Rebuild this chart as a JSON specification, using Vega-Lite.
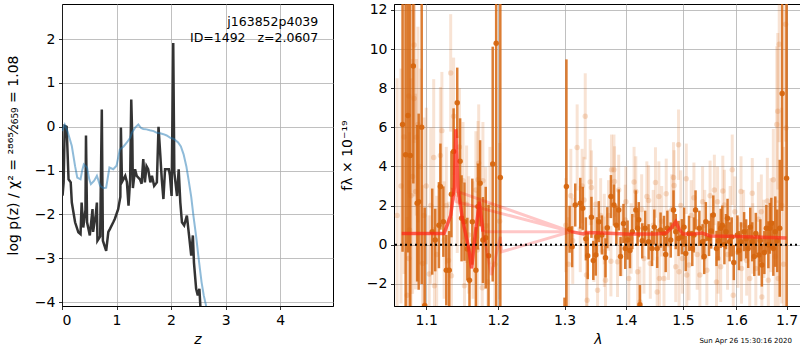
{
  "$schema": "https://vega.github.io/schema/vega-lite/v6.json",
  "padding": {"left": 5, "top": 2, "right": 0, "bottom": 0},
  "background": "white",
  "spacing": 5,
  "config": {
    "font": "DejaVu Sans",
    "view": {"stroke": "black", "strokeWidth": 1},
    "axis": {
      "labelFont": "DejaVu Sans", "titleFont": "DejaVu Sans",
      "labelFontSize": 14, "titleFontSize": 14, "titleFontWeight": "normal",
      "labelColor": "black", "titleColor": "black",
      "tickColor": "black", "domainColor": "black", "tickSize": 3.5, "tickWidth": 0.8,
      "labelPadding": 3.5, "gridColor": "#b0b0b0", "gridWidth": 0.8, "domainWidth": 0.8
    }
  },
  "datasets": {
    "chi": [
      {"z":0.01,"y":-1.57},{"z":0.03,"y":-1.27},{"z":0.05,"y":0.02},{"z":0.085,"y":0.0},{"z":0.12,"y":-1.2},{"z":0.16,"y":-1.27},{"z":0.18,"y":-1.73},{"z":0.24,"y":-2.18},{"z":0.30,"y":-2.41},{"z":0.34,"y":-2.45},{"z":0.36,"y":-1.73},{"z":0.39,"y":-2.3},{"z":0.43,"y":-1.9},{"z":0.44,"y":-0.2},{"z":0.46,"y":-2.18},{"z":0.51,"y":-2.48},{"z":0.56,"y":-1.88},{"z":0.57,"y":-2.4},{"z":0.62,"y":-2.0},{"z":0.64,"y":-1.73},{"z":0.65,"y":-2.6},{"z":0.70,"y":-2.5},{"z":0.73,"y":0.39},{"z":0.75,"y":-2.6},{"z":0.81,"y":-2.83},{"z":0.85,"y":-2.4},{"z":0.88,"y":-2.33},{"z":0.94,"y":-2.18},{"z":0.97,"y":-2.1},{"z":1.03,"y":-1.88},{"z":1.07,"y":-1.6},{"z":1.08,"y":-0.02},{"z":1.10,"y":-1.26},{"z":1.16,"y":-1.12},{"z":1.19,"y":-1.26},{"z":1.22,"y":-1.8},{"z":1.25,"y":-1.2},{"z":1.27,"y":0.62},{"z":1.29,"y":-0.3},{"z":1.30,"y":-1.4},{"z":1.34,"y":-0.97},{"z":1.37,"y":-1.12},{"z":1.43,"y":-1.2},{"z":1.46,"y":-1.3},{"z":1.49,"y":-0.74},{"z":1.52,"y":-1.27},{"z":1.55,"y":-0.9},{"z":1.58,"y":-0.97},{"z":1.62,"y":-1.27},{"z":1.65,"y":-1.12},{"z":1.69,"y":-1.35},{"z":1.74,"y":-1.27},{"z":1.77,"y":0.0},{"z":1.80,"y":-0.59},{"z":1.83,"y":-1.2},{"z":1.86,"y":-1.65},{"z":1.89,"y":-0.97},{"z":1.96,"y":-0.97},{"z":1.98,"y":-1.12},{"z":2.01,"y":-1.58},{"z":2.04,"y":1.91},{"z":2.06,"y":-1.05},{"z":2.11,"y":-1.58},{"z":2.14,"y":-0.97},{"z":2.17,"y":-1.73},{"z":2.20,"y":-2.18},{"z":2.24,"y":-2.25},{"z":2.29,"y":-2.03},{"z":2.33,"y":-2.48},{"z":2.37,"y":-2.94},{"z":2.40,"y":-2.48},{"z":2.42,"y":-3.1},{"z":2.46,"y":-3.7},{"z":2.49,"y":-3.85},{"z":2.52,"y":-3.7},{"z":2.54,"y":-4.15},{"z":2.56,"y":-4.6}
    ],
    "prior": [
      {"z":0.0,"y":-0.1},{"z":0.05,"y":0.05},{"z":0.1,"y":-0.1},{"z":0.18,"y":-0.44},{"z":0.24,"y":-0.9},{"z":0.28,"y":-1.16},{"z":0.34,"y":-1.2},{"z":0.37,"y":-1.0},{"z":0.40,"y":-0.86},{"z":0.46,"y":-0.93},{"z":0.50,"y":-1.2},{"z":0.53,"y":-1.31},{"z":0.59,"y":-1.23},{"z":0.64,"y":-1.12},{"z":0.70,"y":-1.35},{"z":0.76,"y":-1.4},{"z":0.81,"y":-1.39},{"z":0.87,"y":-0.93},{"z":0.94,"y":-0.97},{"z":1.0,"y":-0.89},{"z":1.06,"y":-0.52},{"z":1.13,"y":-0.45},{"z":1.19,"y":-0.36},{"z":1.25,"y":-0.25},{"z":1.28,"y":-0.14},{"z":1.34,"y":-0.02},{"z":1.40,"y":0.05},{"z":1.45,"y":-0.03},{"z":1.49,"y":-0.05},{"z":1.55,"y":-0.06},{"z":1.61,"y":-0.08},{"z":1.68,"y":-0.1},{"z":1.74,"y":-0.14},{"z":1.80,"y":-0.15},{"z":1.86,"y":-0.17},{"z":1.92,"y":-0.2},{"z":1.98,"y":-0.25},{"z":2.05,"y":-0.28},{"z":2.13,"y":-0.36},{"z":2.18,"y":-0.45},{"z":2.23,"y":-0.63},{"z":2.28,"y":-0.9},{"z":2.32,"y":-1.2},{"z":2.37,"y":-1.6},{"z":2.41,"y":-2.03},{"z":2.46,"y":-2.5},{"z":2.50,"y":-2.94},{"z":2.53,"y":-3.25},{"z":2.56,"y":-3.55},{"z":2.60,"y":-3.85},{"z":2.64,"y":-4.07},{"z":2.70,"y":-4.6}
    ],
    "labels": [
      {"z":4.7,"y":2.4,"t":"j163852p4039"},
      {"z":4.7,"y":2.02,"t":"ID=1492\u00a0\u00a0\u00a0z=2.0607"}
    ],
    "dark": [
      {"l":1.069,"f":6.14,"e":6.5},{"l":1.073,"f":4.6,"e":8},{"l":1.076,"f":6.6,"e":7},{"l":1.079,"f":4.56,"e":8},{"l":1.083,"f":9.13,"e":6},{"l":1.088,"f":2.12,"e":4},{"l":1.090,"f":2.2,"e":4.5},{"l":1.094,"f":6.0,"e":8},{"l":1.098,"f":-3.1,"e":5},{"l":1.108,"f":0.67,"e":2.2},{"l":1.112,"f":0.24,"e":1.6},{"l":1.117,"f":1.0,"e":2.2},{"l":1.119,"f":2.97,"e":2.2},{"l":1.123,"f":1.18,"e":1.8},{"l":1.127,"f":-1.3,"e":1.8},{"l":1.131,"f":-1.3,"e":2},{"l":1.134,"f":2.58,"e":2.2},{"l":1.137,"f":4.77,"e":2.2},{"l":1.142,"f":7.25,"e":1.8},{"l":1.146,"f":4.26,"e":2.2},{"l":1.148,"f":1.35,"e":2.2},{"l":1.152,"f":1.18,"e":2},{"l":1.156,"f":-0.22,"e":1.6},{"l":1.159,"f":-1.81,"e":1.8},{"l":1.163,"f":1.18,"e":2.2},{"l":1.168,"f":-1.3,"e":2.2},{"l":1.171,"f":1.95,"e":2.2},{"l":1.174,"f":3.14,"e":2.2},{"l":1.178,"f":0.24,"e":2.2},{"l":1.182,"f":0.36,"e":2.6},{"l":1.186,"f":-0.56,"e":2.6},{"l":1.192,"f":4.12,"e":6},{"l":1.197,"f":10.3,"e":16},{"l":1.203,"f":3.44,"e":14},
      {"l":1.300,"f":-4.2,"e":1.5},{"l":1.303,"f":2.97,"e":6.5},{"l":1.308,"f":0.79,"e":1.2},{"l":1.312,"f":-0.1,"e":1.05},{"l":1.317,"f":2.03,"e":1.1},{"l":1.325,"f":2.12,"e":1.3},{"l":1.329,"f":1.86,"e":1.1},{"l":1.334,"f":0.3,"e":1.1},{"l":1.337,"f":-0.56,"e":1.2},{"l":1.343,"f":1.4,"e":1.05},{"l":1.346,"f":-0.8,"e":1.0},{"l":1.350,"f":-0.53,"e":1.05},{"l":1.352,"f":0.41,"e":1.0},{"l":1.355,"f":1.18,"e":1.05},{"l":1.360,"f":0.5,"e":1.0},{"l":1.366,"f":-0.67,"e":1.0},{"l":1.369,"f":0.87,"e":1.05},{"l":1.375,"f":2.46,"e":1.1},{"l":1.380,"f":2.03,"e":1.05},{"l":1.384,"f":1.0,"e":1.0},{"l":1.388,"f":1.78,"e":1.05},{"l":1.391,"f":-0.6,"e":1.0},{"l":1.396,"f":1.09,"e":1.0},{"l":1.399,"f":-0.19,"e":1.05},{"l":1.403,"f":0.24,"e":1.0},{"l":1.407,"f":-0.3,"e":0.9},{"l":1.411,"f":0.67,"e":0.9},{"l":1.417,"f":1.78,"e":1.0},{"l":1.420,"f":0.84,"e":0.9},{"l":1.422,"f":1.28,"e":0.9},{"l":1.424,"f":-3.06,"e":1.0},{"l":1.428,"f":0.2,"e":0.9},{"l":1.433,"f":0.84,"e":0.9},{"l":1.439,"f":0.15,"e":0.9},{"l":1.445,"f":-0.19,"e":0.9},{"l":1.449,"f":0.9,"e":0.9},{"l":1.454,"f":-0.19,"e":1.0},{"l":1.460,"f":0.75,"e":0.9},{"l":1.466,"f":0.58,"e":0.9},{"l":1.469,"f":-0.5,"e":0.9},{"l":1.472,"f":0.84,"e":0.9},{"l":1.478,"f":0.24,"e":0.9},{"l":1.483,"f":1.78,"e":1.0},{"l":1.487,"f":0.67,"e":0.9},{"l":1.492,"f":0.32,"e":0.9},{"l":1.498,"f":0.41,"e":0.9},{"l":1.502,"f":0.9,"e":1.0},{"l":1.505,"f":-0.45,"e":0.9},{"l":1.511,"f":0.58,"e":0.9},{"l":1.517,"f":-0.19,"e":0.9},{"l":1.520,"f":0.5,"e":0.9},{"l":1.523,"f":1.78,"e":1.0},{"l":1.530,"f":0.84,"e":0.9},{"l":1.536,"f":0.15,"e":0.9},{"l":1.539,"f":-0.6,"e":0.9},{"l":1.542,"f":1.18,"e":1.0},{"l":1.548,"f":0.32,"e":0.9},{"l":1.552,"f":0.7,"e":0.9},{"l":1.556,"f":1.52,"e":1.0},{"l":1.562,"f":-0.19,"e":0.9},{"l":1.566,"f":0.2,"e":1.0},{"l":1.570,"f":0.84,"e":1.0},{"l":1.573,"f":1.0,"e":1.0},{"l":1.577,"f":0.0,"e":1.0},{"l":1.580,"f":0.67,"e":0.9},{"l":1.583,"f":1.35,"e":1.0},{"l":1.587,"f":0.15,"e":1.0},{"l":1.591,"f":0.4,"e":1.0},{"l":1.595,"f":-0.91,"e":0.9},{"l":1.602,"f":0.5,"e":1.0},{"l":1.605,"f":-0.3,"e":1.0},{"l":1.609,"f":0.15,"e":1.0},{"l":1.615,"f":0.67,"e":1.0},{"l":1.619,"f":0.3,"e":1.0},{"l":1.623,"f":-0.19,"e":1.0},{"l":1.627,"f":0.9,"e":1.0},{"l":1.631,"f":0.15,"e":1.0},{"l":1.635,"f":-0.6,"e":1.0},{"l":1.638,"f":0.58,"e":1.05},{"l":1.644,"f":-0.53,"e":1.05},{"l":1.647,"f":0.2,"e":1.1},{"l":1.650,"f":-1.04,"e":1.1},{"l":1.655,"f":-0.4,"e":1.1},{"l":1.659,"f":0.84,"e":1.2},{"l":1.663,"f":0.0,"e":1.2},{"l":1.666,"f":0.84,"e":1.3},{"l":1.669,"f":1.1,"e":1.3},{"l":1.673,"f":-0.19,"e":1.4},{"l":1.677,"f":0.67,"e":1.8},{"l":1.681,"f":0.2,"e":1.6},{"l":1.686,"f":0.84,"e":3.5},{"l":1.691,"f":7.73,"e":6},{"l":1.700,"f":3.4,"e":12}
    ],
    "light": [
      {"l":1.062,"f":1.5,"e":7},{"l":1.067,"f":3.0,"e":6},{"l":1.071,"f":5.5,"e":7},{"l":1.075,"f":-2.58,"e":4},{"l":1.077,"f":7.6,"e":5},{"l":1.077,"f":-0.7,"e":4},{"l":1.078,"f":0.75,"e":5},{"l":1.080,"f":2.5,"e":6},{"l":1.082,"f":3.49,"e":6},{"l":1.084,"f":10.2,"e":5},{"l":1.084,"f":7.47,"e":5},{"l":1.086,"f":2.72,"e":5},{"l":1.087,"f":5.49,"e":4},{"l":1.089,"f":6.14,"e":5},{"l":1.092,"f":4.0,"e":5},{"l":1.095,"f":-0.96,"e":4},{"l":1.097,"f":1.5,"e":5},{"l":1.100,"f":3.0,"e":4},{"l":1.104,"f":-1.5,"e":3},{"l":1.106,"f":2.0,"e":4},{"l":1.110,"f":4.46,"e":4},{"l":1.111,"f":-2.1,"e":3},{"l":1.114,"f":-0.5,"e":3},{"l":1.119,"f":4.56,"e":3.5},{"l":1.121,"f":5.83,"e":3},{"l":1.124,"f":0.24,"e":3},{"l":1.127,"f":2.0,"e":3},{"l":1.130,"f":-0.8,"e":3},{"l":1.133,"f":8.78,"e":3},{"l":1.134,"f":-1.59,"e":3},{"l":1.137,"f":6.56,"e":3},{"l":1.142,"f":2.58,"e":3},{"l":1.145,"f":5.0,"e":3},{"l":1.150,"f":3.27,"e":3},{"l":1.152,"f":-2.1,"e":3},{"l":1.155,"f":2.07,"e":3},{"l":1.158,"f":0.5,"e":3},{"l":1.164,"f":0.24,"e":3},{"l":1.168,"f":2.8,"e":3},{"l":1.170,"f":-0.27,"e":3},{"l":1.171,"f":3.32,"e":3},{"l":1.172,"f":4.17,"e":3},{"l":1.177,"f":-2.2,"e":3},{"l":1.178,"f":3.27,"e":3},{"l":1.182,"f":0.97,"e":3},{"l":1.185,"f":-1.9,"e":3},{"l":1.188,"f":2.0,"e":3},{"l":1.195,"f":-1.0,"e":3},{"l":1.202,"f":1.2,"e":4},
      {"l":1.302,"f":1.0,"e":2.4},{"l":1.306,"f":-1.0,"e":2.4},{"l":1.310,"f":2.5,"e":2.4},{"l":1.313,"f":0.2,"e":2.2},{"l":1.320,"f":4.97,"e":2.2},{"l":1.325,"f":0.8,"e":2.2},{"l":1.328,"f":3.0,"e":1.9},{"l":1.331,"f":2.29,"e":2.2},{"l":1.333,"f":6.56,"e":2.2},{"l":1.335,"f":-1.55,"e":2.2},{"l":1.336,"f":-2.84,"e":2.2},{"l":1.341,"f":3.2,"e":2.2},{"l":1.343,"f":2.92,"e":1.9},{"l":1.347,"f":0.0,"e":1.9},{"l":1.350,"f":2.07,"e":1.9},{"l":1.353,"f":-2.32,"e":1.9},{"l":1.358,"f":1.5,"e":1.9},{"l":1.364,"f":-0.36,"e":1.8},{"l":1.364,"f":0.8,"e":1.8},{"l":1.366,"f":-1.81,"e":1.8},{"l":1.371,"f":1.5,"e":1.8},{"l":1.375,"f":-0.84,"e":1.8},{"l":1.376,"f":3.83,"e":1.8},{"l":1.380,"f":3.83,"e":1.8},{"l":1.381,"f":3.23,"e":1.8},{"l":1.386,"f":-0.87,"e":1.8},{"l":1.388,"f":2.8,"e":1.8},{"l":1.393,"f":0.2,"e":1.8},{"l":1.399,"f":1.27,"e":1.8},{"l":1.400,"f":2.2,"e":1.8},{"l":1.405,"f":-1.73,"e":1.8},{"l":1.409,"f":0.32,"e":1.8},{"l":1.414,"f":3.2,"e":1.8},{"l":1.417,"f":2.72,"e":1.8},{"l":1.420,"f":-1.38,"e":1.8},{"l":1.424,"f":-2.92,"e":1.8},{"l":1.427,"f":1.8,"e":1.8},{"l":1.431,"f":-0.7,"e":1.8},{"l":1.436,"f":2.46,"e":1.8},{"l":1.439,"f":2.26,"e":1.8},{"l":1.442,"f":-0.96,"e":1.8},{"l":1.447,"f":1.0,"e":1.8},{"l":1.451,"f":3.18,"e":1.8},{"l":1.454,"f":-2.41,"e":1.8},{"l":1.457,"f":2.46,"e":1.8},{"l":1.458,"f":-1.73,"e":1.8},{"l":1.462,"f":1.2,"e":1.8},{"l":1.466,"f":-1.73,"e":1.8},{"l":1.470,"f":2.6,"e":1.8},{"l":1.474,"f":0.0,"e":1.8},{"l":1.480,"f":1.8,"e":1.8},{"l":1.483,"f":3.44,"e":1.8},{"l":1.484,"f":3.03,"e":1.8},{"l":1.487,"f":-1.13,"e":1.8},{"l":1.492,"f":5.11,"e":1.8},{"l":1.493,"f":-1.38,"e":1.8},{"l":1.496,"f":2.0,"e":1.8},{"l":1.499,"f":-0.7,"e":1.8},{"l":1.506,"f":3.37,"e":1.8},{"l":1.507,"f":-1.55,"e":1.8},{"l":1.511,"f":-1.04,"e":1.8},{"l":1.515,"f":1.5,"e":1.8},{"l":1.520,"f":2.4,"e":1.8},{"l":1.526,"f":-0.5,"e":1.8},{"l":1.531,"f":-1.55,"e":1.8},{"l":1.536,"f":2.2,"e":1.8},{"l":1.540,"f":1.0,"e":1.8},{"l":1.544,"f":-1.3,"e":1.8},{"l":1.550,"f":2.5,"e":1.8},{"l":1.558,"f":2.8,"e":1.8},{"l":1.562,"f":-1.9,"e":1.8},{"l":1.564,"f":2.2,"e":1.8},{"l":1.565,"f":-0.7,"e":1.8},{"l":1.570,"f":-1.13,"e":1.8},{"l":1.574,"f":2.75,"e":1.8},{"l":1.577,"f":2.03,"e":1.8},{"l":1.583,"f":-0.5,"e":1.8},{"l":1.588,"f":1.2,"e":1.8},{"l":1.592,"f":3.83,"e":1.8},{"l":1.594,"f":-2.58,"e":1.8},{"l":1.597,"f":1.69,"e":1.8},{"l":1.603,"f":-0.4,"e":1.8},{"l":1.609,"f":2.72,"e":1.8},{"l":1.610,"f":-1.21,"e":1.8},{"l":1.614,"f":1.0,"e":1.8},{"l":1.620,"f":-0.8,"e":1.8},{"l":1.626,"f":-1.73,"e":1.8},{"l":1.631,"f":2.63,"e":1.8},{"l":1.632,"f":0.32,"e":1.8},{"l":1.638,"f":-1.21,"e":1.9},{"l":1.643,"f":1.3,"e":1.9},{"l":1.649,"f":1.69,"e":1.9},{"l":1.650,"f":-2.67,"e":1.9},{"l":1.654,"f":0.3,"e":2.0},{"l":1.661,"f":2.24,"e":2.2},{"l":1.663,"f":-1.81,"e":2.2},{"l":1.668,"f":1.0,"e":2.4},{"l":1.673,"f":3.32,"e":2.6},{"l":1.677,"f":-0.6,"e":3.0},{"l":1.680,"f":6.14,"e":4},{"l":1.682,"f":6.82,"e":4},{"l":1.683,"f":-1.73,"e":4},{"l":1.685,"f":10.24,"e":5},{"l":1.690,"f":2.0,"e":5},{"l":1.694,"f":-1.0,"e":6},{"l":1.698,"f":11.27,"e":6},{"l":1.699,"f":5.96,"e":6}
    ],
    "tangle": [
      {"o":1,"l":1.068,"f":0.58},{"o":2,"l":1.124,"f":0.58},{"o":3,"l":1.133,"f":1.5},{"o":4,"l":1.138,"f":2.9},{"o":5,"l":1.140,"f":5.9},{"o":6,"l":1.143,"f":2.9},{"o":7,"l":1.149,"f":1.35},{"o":8,"l":1.158,"f":-0.2},{"o":9,"l":1.162,"f":-1.2},{"o":10,"l":1.167,"f":0.5},{"o":11,"l":1.173,"f":2.2},{"o":12,"l":1.178,"f":0.67},{"o":13,"l":1.19,"f":-1.55},{"o":14,"l":1.203,"f":0.4},{"o":15,"l":1.205,"f":-0.36},{"o":16,"l":1.31,"f":0.67},{"o":17,"l":1.136,"f":2.8},{"o":18,"l":1.141,"f":2.2},{"o":19,"l":1.31,"f":0.67},{"o":20,"l":1.178,"f":0.67},{"o":21,"l":1.31,"f":0.67}
    ],
    "model": [
      {"s":"a","l":1.068,"f":0.58},{"s":"a","l":1.124,"f":0.58},{"s":"a","l":1.133,"f":1.5},{"s":"a","l":1.138,"f":2.9},{"s":"a","l":1.140,"f":5.9},{"s":"a","l":1.143,"f":2.9},{"s":"a","l":1.149,"f":1.35},{"s":"a","l":1.158,"f":-0.2},{"s":"a","l":1.162,"f":-1.2},{"s":"a","l":1.167,"f":0.5},{"s":"a","l":1.173,"f":2.2},{"s":"a","l":1.178,"f":0.67},
      {"s":"b","l":1.31,"f":0.67},{"s":"b","l":1.33,"f":0.55},{"s":"b","l":1.335,"f":0.62},{"s":"b","l":1.36,"f":0.6},{"s":"b","l":1.40,"f":0.55},{"s":"b","l":1.45,"f":0.55},{"s":"b","l":1.47,"f":0.6},{"s":"b","l":1.48,"f":0.9},{"s":"b","l":1.487,"f":1.18},{"s":"b","l":1.493,"f":0.8},{"s":"b","l":1.50,"f":0.55},{"s":"b","l":1.52,"f":0.55},{"s":"b","l":1.535,"f":0.6},{"s":"b","l":1.55,"f":0.45},{"s":"b","l":1.60,"f":0.42},{"s":"b","l":1.65,"f":0.38},{"s":"b","l":1.70,"f":0.35}
    ],
    "zero": [{"f":0}],
    "stamp": [{"l":1.711,"f":-4.92,"t":"Sun Apr 26 15:30:16 2020"}]
  },
  "hconcat": [
    {
      "width": 271, "height": 302,
      "layer": [
        {
          "data": {"name": "chi"},
          "mark": {"type": "line", "color": "#333333", "strokeWidth": 2.5, "clip": true},
          "encoding": {
            "x": {"field": "z", "type": "quantitative", "title": "z",
                  "scale": {"domain": [0, 4.97], "nice": false},
                  "axis": {"values": [0, 1, 2, 3, 4], "format": "d", "titleFontStyle": "italic", "titlePadding": 5}},
            "y": {"field": "y", "type": "quantitative", "title": "log p(z) / χ² = ²⁸⁶⁵⁄₂₆₅₉ = 1.08",
                  "scale": {"domain": [-4.09, 2.8], "nice": false, "zero": false},
                  "axis": {"values": [-4, -3, -2, -1, 0, 1, 2], "format": "d", "titlePadding": 14}}
          }
        },
        {
          "data": {"name": "prior"},
          "mark": {"type": "line", "color": "#1f77b4", "opacity": 0.5, "strokeWidth": 2, "clip": true},
          "encoding": {
            "x": {"field": "z", "type": "quantitative", "title": "z"},
            "y": {"field": "y", "type": "quantitative", "title": "log p(z) / χ² = ²⁸⁶⁵⁄₂₆₅₉ = 1.08"}
          }
        },
        {
          "data": {"name": "labels"},
          "mark": {"type": "text", "align": "right", "baseline": "middle", "fontSize": 12.5, "color": "black"},
          "encoding": {
            "x": {"field": "z", "type": "quantitative", "title": "z"},
            "y": {"field": "y", "type": "quantitative", "title": "log p(z) / χ² = ²⁸⁶⁵⁄₂₆₅₉ = 1.08"},
            "text": {"field": "t"}
          }
        }
      ]
    },
    {
      "width": 408, "height": 302,
      "layer": [
        {
          "data": {"name": "light"},
          "mark": {"type": "errorbar", "color": "#d6660f", "opacity": 0.18, "thickness": 3, "clip": true},
          "encoding": {
            "x": {"field": "l", "type": "quantitative", "title": "λ",
                  "scale": {"type": "log", "domain": [1.058, 1.732], "nice": false, "zero": false},
                  "axis": {"values": [1.1, 1.2, 1.3, 1.4, 1.5, 1.6, 1.7], "format": ".1f", "titleFontStyle": "italic", "titlePadding": 5}},
            "y": {"field": "f", "type": "quantitative", "title": "fλ × 10⁻¹⁹",
                  "scale": {"domain": [-3.13, 12.3], "nice": false, "zero": false},
                  "axis": {"values": [-2, 0, 2, 4, 6, 8, 10, 12], "format": "d", "titlePadding": 12}},
            "yError": {"field": "e"}
          }
        },
        {
          "data": {"name": "light"},
          "mark": {"type": "point", "filled": true, "color": "#d6660f", "opacity": 0.2, "size": 30, "clip": true},
          "encoding": {
            "x": {"field": "l", "type": "quantitative", "title": "λ"},
            "y": {"field": "f", "type": "quantitative", "title": "fλ × 10⁻¹⁹"}
          }
        },
        {
          "data": {"name": "dark"},
          "mark": {"type": "errorbar", "color": "#d6660f", "opacity": 0.85, "thickness": 2.5, "clip": true},
          "encoding": {
            "x": {"field": "l", "type": "quantitative", "title": "λ"},
            "y": {"field": "f", "type": "quantitative", "title": "fλ × 10⁻¹⁹"},
            "yError": {"field": "e"}
          }
        },
        {
          "data": {"name": "dark"},
          "mark": {"type": "point", "filled": true, "color": "#d6660f", "opacity": 0.95, "size": 30, "clip": true},
          "encoding": {
            "x": {"field": "l", "type": "quantitative", "title": "λ"},
            "y": {"field": "f", "type": "quantitative", "title": "fλ × 10⁻¹⁹"}
          }
        },
        {
          "data": {"name": "tangle"},
          "mark": {"type": "line", "color": "red", "opacity": 0.22, "strokeWidth": 3, "clip": true},
          "encoding": {
            "x": {"field": "l", "type": "quantitative", "title": "λ"},
            "y": {"field": "f", "type": "quantitative", "title": "fλ × 10⁻¹⁹"},
            "order": {"field": "o"}
          }
        },
        {
          "data": {"name": "model"},
          "mark": {"type": "line", "color": "#ff2a1a", "opacity": 0.65, "strokeWidth": 3.5, "clip": true},
          "encoding": {
            "x": {"field": "l", "type": "quantitative", "title": "λ"},
            "y": {"field": "f", "type": "quantitative", "title": "fλ × 10⁻¹⁹"},
            "detail": {"field": "s"}
          }
        },
        {
          "data": {"name": "zero"},
          "mark": {"type": "rule", "color": "black", "strokeWidth": 2, "strokeDash": [2, 3]},
          "encoding": {"y": {"field": "f", "type": "quantitative", "title": "fλ × 10⁻¹⁹"}}
        },
        {
          "data": {"name": "stamp"},
          "mark": {"type": "text", "align": "right", "baseline": "middle", "fontSize": 7, "color": "black", "clip": false},
          "encoding": {
            "x": {"field": "l", "type": "quantitative", "title": "λ"},
            "y": {"field": "f", "type": "quantitative", "title": "fλ × 10⁻¹⁹"},
            "text": {"field": "t"}
          }
        }
      ]
    }
  ]
}
